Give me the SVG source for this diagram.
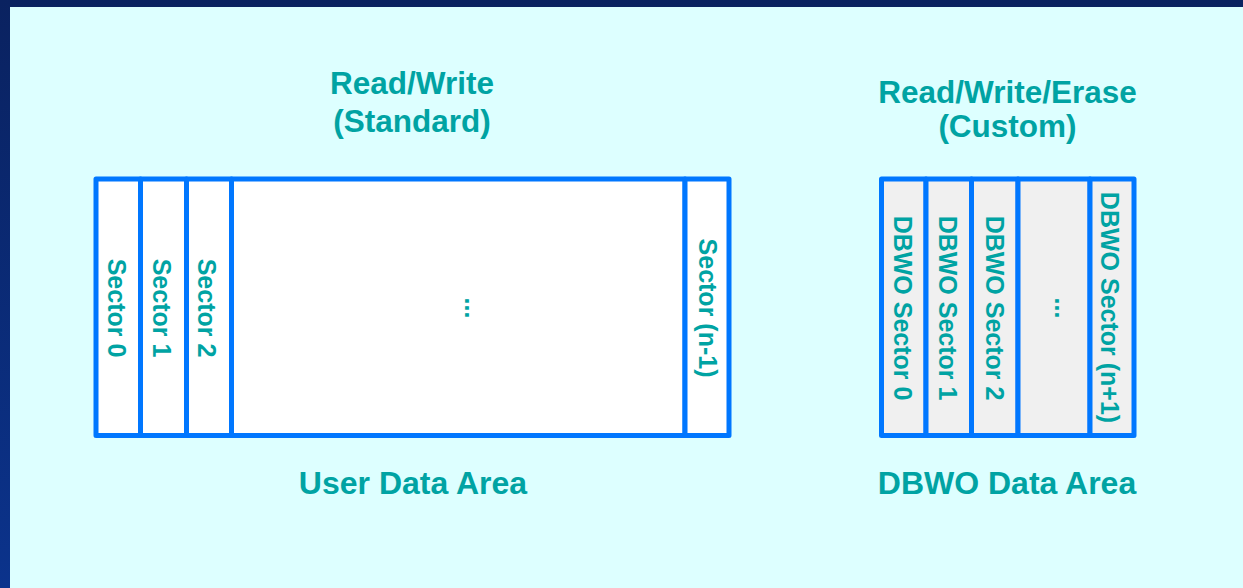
<svg xmlns="http://www.w3.org/2000/svg" width="1243" height="588" viewBox="0 0 1243 588">
  <defs>
    <linearGradient id="frame" x1="0" y1="0" x2="0" y2="1">
      <stop offset="0" stop-color="#0a2260"/>
      <stop offset="1" stop-color="#0b338c"/>
    </linearGradient>
    <style>
      .cell { stroke: #0077ff; stroke-width: 5; stroke-linejoin: round; }
      .user { fill: #ffffff; }
      .dbwo { fill: #f0f0f0; }
      .title { font-family: "Liberation Sans", Arial, sans-serif; font-weight: bold; font-size: 31.5px; fill: #00a3a3; text-anchor: middle; }
      .caption { font-family: "Liberation Sans", Arial, sans-serif; font-weight: bold; font-size: 32px; fill: #00a3a3; text-anchor: middle; }
      .lbl { font-family: "Liberation Sans", Arial, sans-serif; font-weight: bold; font-size: 25px; fill: #00a3a3; text-anchor: middle; }
    </style>
  </defs>

  <!-- page frame and panel -->
  <rect x="0" y="0" width="1243" height="588" fill="url(#frame)"/>
  <rect x="10" y="7" width="1233" height="581" fill="#ddffff"/>

  <!-- headings -->
  <g id="heading-standard">
    <text class="title" x="412" y="94">Read/Write</text>
    <text class="title" x="412" y="132">(Standard)</text>
  </g>
  <g id="heading-custom">
    <text class="title" x="1007.5" y="103">Read/Write/Erase</text>
    <text class="title" x="1007.5" y="137">(Custom)</text>
  </g>

  <!-- user data area -->
  <g id="user-sector-0">
    <rect class="cell user" x="96" y="179" width="44.5" height="256.5"/>
    <text class="lbl" transform="translate(108,308) rotate(90)">Sector 0</text>
  </g>
  <g id="user-sector-1">
    <rect class="cell user" x="140.5" y="179" width="46" height="256.5"/>
    <text class="lbl" transform="translate(153,308) rotate(90)">Sector 1</text>
  </g>
  <g id="user-sector-2">
    <rect class="cell user" x="186.5" y="179" width="45" height="256.5"/>
    <text class="lbl" transform="translate(198,308) rotate(90)">Sector 2</text>
  </g>
  <g id="user-sector-gap">
    <rect class="cell user" x="231.5" y="179" width="453.5" height="256.5"/>
    <text class="lbl" transform="translate(465,308) rotate(90)">...</text>
  </g>
  <g id="user-sector-last">
    <rect class="cell user" x="685" y="179" width="44" height="256.5"/>
    <text class="lbl" transform="translate(699,308) rotate(90)">Sector (n-1)</text>
  </g>

  <!-- DBWO data area -->
  <g id="dbwo-sector-0">
    <rect class="cell dbwo" x="881.5" y="179" width="44.5" height="256.5"/>
    <text class="lbl" transform="translate(894,308) rotate(90)">DBWO Sector 0</text>
  </g>
  <g id="dbwo-sector-1">
    <rect class="cell dbwo" x="926" y="179" width="45.5" height="256.5"/>
    <text class="lbl" transform="translate(939,308) rotate(90)">DBWO Sector 1</text>
  </g>
  <g id="dbwo-sector-2">
    <rect class="cell dbwo" x="971.5" y="179" width="46.5" height="256.5"/>
    <text class="lbl" transform="translate(985.5,308) rotate(90)">DBWO Sector 2</text>
  </g>
  <g id="dbwo-sector-gap">
    <rect class="cell dbwo" x="1018" y="179" width="72" height="256.5"/>
    <text class="lbl" transform="translate(1055,308) rotate(90)">...</text>
  </g>
  <g id="dbwo-sector-last">
    <rect class="cell dbwo" x="1090" y="179" width="44" height="256.5"/>
    <text class="lbl" transform="translate(1100.5,307.5) rotate(90)">DBWO Sector (n+1)</text>
  </g>

  <!-- area captions -->
  <g id="caption-user">
    <text class="caption" x="413" y="494">User Data Area</text>
  </g>
  <g id="caption-dbwo">
    <text class="caption" x="1007" y="494">DBWO Data Area</text>
  </g>

  <g id="connectors"/>
</svg>
